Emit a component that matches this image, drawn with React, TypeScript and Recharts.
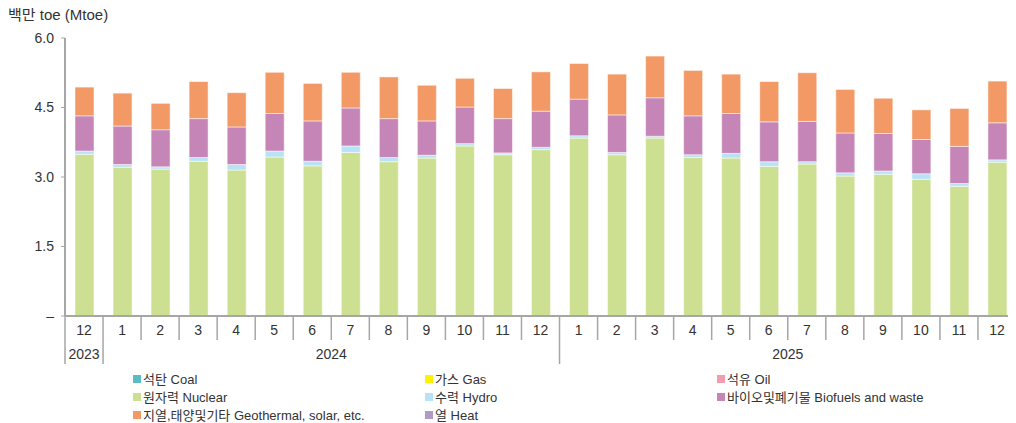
import React from "react";
import { BarChart, Bar, XAxis, YAxis, Legend } from "recharts";

const FONT = "'Liberation Sans', 'Noto Sans CJK KR', sans-serif";

// categories
const periods = [
  "2023-12",
  "2024-01", "2024-02", "2024-03", "2024-04", "2024-05", "2024-06",
  "2024-07", "2024-08", "2024-09", "2024-10", "2024-11", "2024-12",
  "2025-01", "2025-02", "2025-03", "2025-04", "2025-05", "2025-06",
  "2025-07", "2025-08", "2025-09", "2025-10", "2025-11", "2025-12",
];
const monthLabels = [
  "12", "1", "2", "3", "4", "5", "6", "7", "8", "9", "10", "11", "12",
  "1", "2", "3", "4", "5", "6", "7", "8", "9", "10", "11", "12",
];
// year groups: [label, first index, number of months]
const yearGroups: [string, number, number][] = [
  ["2023", 0, 1],
  ["2024", 1, 12],
  ["2025", 13, 12],
];

// series (Mtoe)
const coal = new Array(25).fill(0);
const gas = new Array(25).fill(0);
const oil = new Array(25).fill(0);
const nuclear = [
  3.49, 3.21, 3.17, 3.34, 3.15, 3.43, 3.24, 3.53, 3.33, 3.41, 3.67, 3.48, 3.59,
  3.84, 3.48, 3.84, 3.42, 3.41, 3.23, 3.28, 3.02, 3.06, 2.95, 2.8, 3.32,
];
const hydro = [
  0.07, 0.06, 0.05, 0.08, 0.12, 0.13, 0.1, 0.14, 0.09, 0.06, 0.05, 0.04, 0.05,
  0.05, 0.05, 0.04, 0.06, 0.1, 0.1, 0.05, 0.07, 0.07, 0.12, 0.06, 0.05,
];
const biofuels = [
  0.76, 0.83, 0.8, 0.84, 0.81, 0.81, 0.87, 0.82, 0.84, 0.74, 0.79, 0.74, 0.78,
  0.79, 0.81, 0.83, 0.84, 0.86, 0.86, 0.87, 0.86, 0.81, 0.74, 0.8, 0.8,
];
const geothermal = [
  0.62, 0.71, 0.57, 0.8, 0.74, 0.89, 0.81, 0.77, 0.9, 0.77, 0.62, 0.65, 0.85,
  0.77, 0.88, 0.9, 0.98, 0.85, 0.87, 1.05, 0.94, 0.76, 0.64, 0.82, 0.9,
];
const heat = new Array(25).fill(0);

const yTicks = [0, 1.5, 3, 4.5, 6];

const series = [
  { key: "coal", name: "석탄 Coal", color: "#5bbcc4", values: coal },
  { key: "gas", name: "가스 Gas", color: "#fff200", values: gas },
  { key: "oil", name: "석유 Oil", color: "#f29cb0", values: oil },
  { key: "nuclear", name: "원자력 Nuclear", color: "#cde092", values: nuclear },
  { key: "hydro", name: "수력 Hydro", color: "#b9e2f6", values: hydro },
  { key: "bio", name: "바이오및폐기물 Biofuels and waste", color: "#c585b7", values: biofuels },
  { key: "geo", name: "지열,태양및기타 Geothermal, solar, etc.", color: "#f29966", values: geothermal },
  { key: "heat", name: "열 Heat", color: "#b09bc4", values: heat },
];

const data = periods.map((p, i) => {
  const row: Record<string, string | number> = { period: p, month: monthLabels[i] };
  series.forEach((s) => {
    row[s.key] = s.values[i];
  });
  return row;
});

const W = 1008;
const H = 415;
const Y_AXIS_W = 57;
const BAND = (W - Y_AXIS_W) / periods.length;
const AXIS_GRAY = "#a6a6a6";
const TEXT = "#333";

const MonthTick = (props: any) => {
  const { x, y, payload } = props;
  const i = payload.index;
  const left = x - BAND / 2;
  const group = yearGroups.find((g) => g[1] === i);
  return (
    <g>
      <line
        x1={left}
        x2={left}
        y1={y}
        y2={group ? y + 48 : y + 24}
        stroke={AXIS_GRAY}
        strokeWidth={1.5}
      />
      <text
        x={x}
        y={y + 15}
        textAnchor="middle"
        dominantBaseline="middle"
        fontSize={14}
        fontFamily={FONT}
        fill={TEXT}
      >
        {monthLabels[i]}
      </text>
      {group && (
        <text
          x={x + ((group[2] - 1) / 2) * BAND}
          y={y + 39}
          textAnchor="middle"
          dominantBaseline="middle"
          fontSize={14}
          fontFamily={FONT}
          fill={TEXT}
        >
          {group[0]}
        </text>
      )}
    </g>
  );
};

const LegendGrid = () => (
  <div
    style={{
      display: "grid",
      gridTemplateColumns: "292px 292px 292px",
      paddingLeft: 125,
      fontFamily: FONT,
      fontSize: 13,
      lineHeight: "15px",
      color: TEXT,
    }}
  >
    {series.map((s) => (
      <div key={s.key} style={{ display: "flex", alignItems: "center", height: 18 }}>
        <span
          style={{
            display: "inline-block",
            width: 8,
            height: 8,
            background: s.color,
            marginRight: 2,
          }}
        />
        <span>{s.name}</span>
      </div>
    ))}
  </div>
);

export default function App() {
  return (
    <div style={{ position: "relative", width: W, height: H }}>
      <div
        style={{
          position: "absolute",
          left: 0,
          top: -1,
          fontFamily: FONT,
          fontSize: 15,
          lineHeight: "16px",
          color: TEXT,
          zIndex: 1,
        }}
      >
        백만 toe (Mtoe)
      </div>
      <BarChart
        width={W}
        height={H}
        data={data}
        margin={{ top: 30, right: 0, bottom: 0, left: 0 }}
        barSize={19}
      >
        <XAxis
          dataKey="period"
          interval={0}
          tickLine={false}
          tickSize={0}
          tickMargin={0}
          height={56}
          axisLine={{ stroke: AXIS_GRAY, strokeWidth: 2 }}
          tick={<MonthTick />}
        />
        <YAxis
          width={Y_AXIS_W}
          domain={[0, 6]}
          ticks={yTicks}
          tickSize={4}
          tickMargin={7}
          axisLine={{ stroke: AXIS_GRAY, strokeWidth: 2 }}
          tickLine={{ stroke: AXIS_GRAY }}
          tick={{ fontSize: 14, fontFamily: FONT, fill: TEXT }}
          tickFormatter={(v: number) => (v === 0 ? "–" : v.toFixed(1))}
        />
        <Legend
          verticalAlign="bottom"
          height={51}
          wrapperStyle={{ left: 0, top: 362, width: W }}
          content={<LegendGrid />}
        />
        {series.map((s) => (
          <Bar
            key={s.key}
            dataKey={s.key}
            name={s.name}
            stackId="a"
            fill={s.color}
            stroke="#ffffff"
            strokeOpacity={0.5}
            strokeWidth={1}
            isAnimationActive={false}
          />
        ))}
      </BarChart>
    </div>
  );
}
